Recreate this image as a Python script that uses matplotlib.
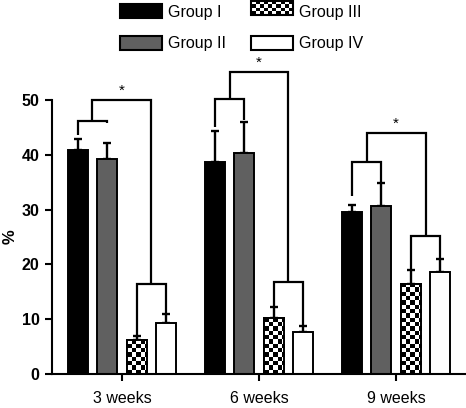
import matplotlib
matplotlib.use('Agg')
import matplotlib.pyplot as plt
import numpy as np
from matplotlib.patches import Rectangle

plt.rcParams['font.family'] = ['Liberation Sans', 'DejaVu Sans']

# ---------------- data ----------------
weeks = ['3 weeks', '6 weeks', '9 weeks']
groups = ['Group I', 'Group II', 'Group III', 'Group IV']
group1 = [40.9, 38.6, 29.5]
group2 = [39.2, 40.4, 30.6]
group3 = [6.2, 10.3, 16.5]
group4 = [9.25, 7.6, 18.7]
err1 = [2.0, 5.7, 1.4]
err2 = [2.9, 5.6, 4.3]
err3 = [0.7, 2.0, 2.4]
err4 = [1.65, 1.2, 2.3]
yticks = [0, 10, 20, 30, 40, 50]

# significance brackets (levels in % units)
pair12_level = [46.2, 50.2, 38.6]
pair12_left_end = [43.6, 45.1, 32.4]
pair12_right_end = [45.8, 46.35, 34.9]
pair34_level = [16.4, 16.8, 25.2]
top_level = [50.0, 55.2, 43.9]

means = [group1, group2, group3, group4]
errs = [err1, err2, err3, err4]
colors = ['black', '#606060', 'white', 'white']

# ---------------- figure ----------------
W, H = 466, 408
fig = plt.figure(figsize=(W / 100, H / 100), dpi=100)
ax_l, ax_b, ax_w, ax_h = 52 / W, 1 - 374 / H, 414 / W, 274 / H
ax = fig.add_axes([ax_l, ax_b, ax_w, ax_h])
xlim = (-0.51, 2.51)
ylim = (0, 50)
px_per_x = 414 / (xlim[1] - xlim[0])
px_per_y = 274 / (ylim[1] - ylim[0])

x = np.arange(len(weeks))
pitch = 0.215
width = 0.146
offsets = [(i - 1.5) * pitch for i in range(4)]

bars = []
for i in range(4):
    xi = x + offsets[i]
    ax.errorbar(xi, means[i], yerr=[np.zeros(3), errs[i]], fmt='none',
                ecolor='black', elinewidth=1.7, capsize=3, capthick=1.7, zorder=1)
    b = ax.bar(xi, means[i], width, color=colors[i], edgecolor='black',
               linewidth=1.4, zorder=2)
    bars.append(b)

# checkerboard fill for Group III
sq_px = 4.3
for rect in bars[2]:
    x0 = rect.get_x()
    w = rect.get_width()
    h = rect.get_height()
    sqx = sq_px / px_per_x
    sqy = sq_px / px_per_y
    ncol = int(np.ceil(w / sqx)) + 1
    nrow = int(np.ceil(h / sqy)) + 1
    board = (np.add.outer(np.arange(nrow), np.arange(ncol)) % 2).astype(float)
    im = ax.imshow(board, cmap='gray', vmin=0, vmax=1, origin='lower',
                   interpolation='nearest', aspect='auto',
                   extent=(x0, x0 + ncol * sqx, 0, nrow * sqy), zorder=2.5)
    im.set_clip_path(rect)
ax.bar(x + offsets[2], group3, width, facecolor='none', edgecolor='black',
       linewidth=1.4, zorder=3)

# brackets
def seg(xs, ys):
    ax.plot(xs, ys, color='black', lw=1.6, clip_on=False, zorder=4,
            solid_joinstyle='miter', solid_capstyle='butt')

for k in range(3):
    xa, xb, xc, xd = [x[k] + o for o in offsets]
    seg([xa, xa, xb, xb], [pair12_left_end[k], pair12_level[k], pair12_level[k], pair12_right_end[k]])
    seg([xc, xc, xd, xd], [group3[k] + err3[k], pair34_level[k], pair34_level[k], group4[k] + err4[k]])
    m12 = (xa + xb) / 2
    m34 = (xc + xd) / 2
    seg([m12, m12, m34, m34], [pair12_level[k], top_level[k], top_level[k], pair34_level[k]])
    ax.text((m12 + m34) / 2, top_level[k] + 0.4, '*', ha='center', va='bottom',
            fontsize=11, clip_on=False)

ax.set_xlim(*xlim)
ax.set_ylim(*ylim)
ax.set_xticks(x)
ax.set_xticklabels(weeks, fontsize=11.5)
ax.set_yticks(yticks)
ax.set_yticklabels([str(t) for t in yticks], fontsize=11.5, fontweight='bold')
ax.tick_params(axis='both', direction='out', length=5, width=1.5, colors='black')
ax.tick_params(axis='x', pad=7)
ax.tick_params(axis='y', pad=4)
for s in ['top', 'right']:
    ax.spines[s].set_visible(False)
for s in ['left', 'bottom']:
    ax.spines[s].set_linewidth(1.5)
ax.set_ylabel('%', fontsize=12, fontweight='bold', labelpad=3)

# legend
class CheckerHandler:
    def legend_artist(self, legend, orig_handle, fontsize, handlebox):
        x0, y0 = handlebox.xdescent, handlebox.ydescent
        w, h = handlebox.width, handlebox.height
        tr = handlebox.get_transform()
        ncol, nrow = 10, 4
        sw, sh = w / ncol, h / nrow
        handlebox.add_artist(Rectangle((x0, y0), w, h, facecolor='white', edgecolor='none', transform=tr))
        for i in range(ncol):
            for j in range(nrow):
                if (i + j) % 2 == 0:
                    handlebox.add_artist(Rectangle((x0 + i * sw, y0 + j * sh), sw, sh,
                                                   facecolor='black', edgecolor='none', transform=tr))
        border = Rectangle((x0, y0), w, h, facecolor='none', edgecolor='black', lw=1.5, transform=tr)
        handlebox.add_artist(border)
        return border

handles = [Rectangle((0, 0), 1, 1, facecolor=colors[i], edgecolor='black', lw=1.5) for i in range(4)]
fig.legend(handles, groups, loc='upper left', bbox_to_anchor=(120 / W, 1 - 4 / H),
           ncol=2, frameon=False, fontsize=11.5, handlelength=2.6, handleheight=1.0,
           handletextpad=0.4, columnspacing=1.6, labelspacing=1.0, borderpad=0,
           borderaxespad=0, handler_map={handles[2]: CheckerHandler()})

fig.savefig('out.png', dpi=100)
